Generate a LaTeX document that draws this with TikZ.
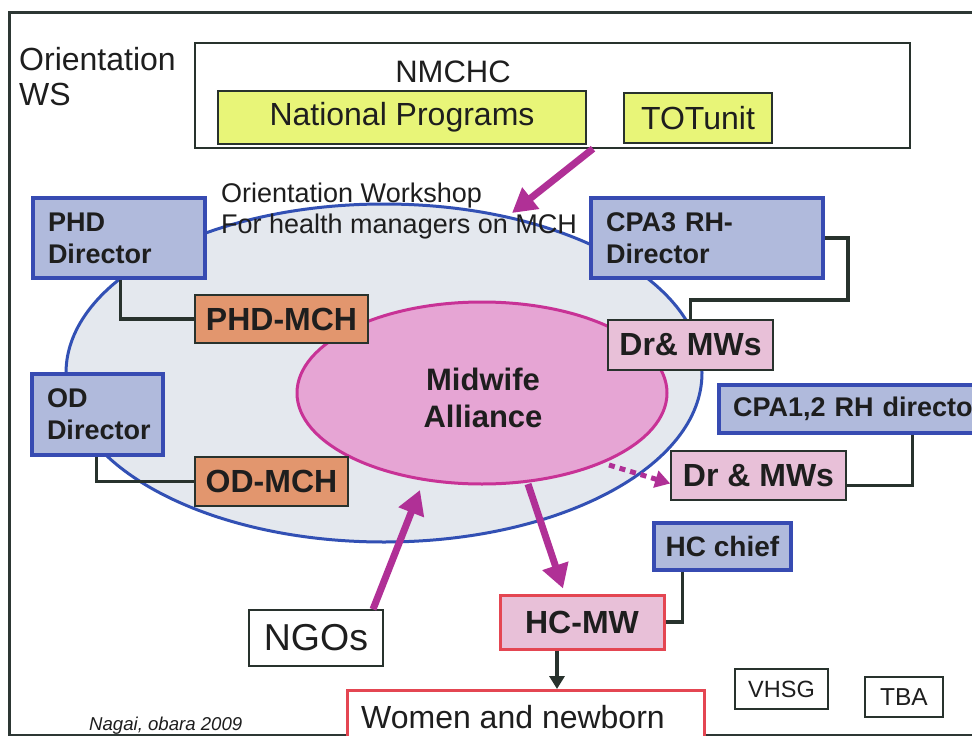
\documentclass[tikz,border=0pt]{standalone}
\usepackage{fontspec}
\setmainfont{Liberation Sans}
\usetikzlibrary{arrows.meta,shapes.geometric,calc}
\definecolor{framecol}{RGB}{45,55,52}
\definecolor{darkline}{RGB}{40,50,45}
\definecolor{wsblue}{RGB}{50,80,180}
\definecolor{wsfill}{RGB}{228,232,238}
\definecolor{mwborder}{RGB}{200,50,150}
\definecolor{mwfill}{RGB}{230,165,212}
\definecolor{boxblue}{RGB}{55,75,178}
\definecolor{bluefill}{RGB}{176,186,220}
\definecolor{orangefill}{RGB}{226,150,110}
\definecolor{pinkfill}{RGB}{232,192,216}
\definecolor{yellowfill}{RGB}{232,245,120}
\definecolor{redline}{RGB}{228,70,82}
\definecolor{magarrow}{RGB}{176,48,150}
\definecolor{txt}{RGB}{30,30,30}
\newcommand{\fsz}[2]{\fontsize{#1}{#2}\selectfont}
\tikzset{
  basebox/.style={rectangle, inner sep=0pt, text=txt},
  bluebox/.style={basebox, draw=boxblue, fill=bluefill, line width=3.5pt, align=left, font=\bfseries\fsz{27}{32}},
  orangebox/.style={basebox, draw=darkline, fill=orangefill, line width=1.6pt, font=\bfseries\fsz{32}{36}},
  pinkbox/.style={basebox, draw=darkline, fill=pinkfill, line width=1.6pt, font=\bfseries\fsz{32}{36}},
  yellowbox/.style={basebox, draw=darkline, fill=yellowfill, line width=2.5pt, font=\fsz{32}{36}},
  plainbox/.style={basebox, draw=darkline, fill=white, line width=1.4pt},
  redbox/.style={basebox, draw=redline, line width=3pt},
  conn/.style={draw=darkline, line width=3.5pt},
  bigarrow/.style={draw=magarrow, line width=7pt, -{Triangle[length=24pt,width=26pt]}},
  dotarrow/.style={draw=magarrow, line width=5pt, dash pattern=on 6pt off 5pt, -{Triangle[length=15pt,width=17pt]}},
  darrow/.style={draw=darkline, line width=3.5pt, -{Triangle[length=13pt,width=15pt]}},
}
\begin{document}
\begin{tikzpicture}[x=1pt,y=-1pt]
\useasboundingbox (0,0) rectangle (972,736);
\clip (0,0) rectangle (972,736);
\fill[white] (0,0) rectangle (972,736);
% frame
\draw[framecol, line width=3pt] (9,745) -- (9,12) -- (985,12);
\draw[framecol, line width=2pt] (9,734.5) -- (985,734.5);

% top
\node[anchor=north west, inner sep=0pt, align=left, text=txt, font=\fsz{32}{35}] (orient) at (19,47) {Orientation\\WS};
\node[plainbox, minimum width=715pt, minimum height=105pt] (nmchc) at (552.5,95.5) {};
\node[inner sep=0pt, text=txt, font=\fsz{31}{34}] (nmchclbl) at (453,72) {NMCHC};
\node[yellowbox, minimum width=368pt, minimum height=53pt] (natprog) at (402,117.5) {National Programs};
\node[yellowbox, line width=1.6pt, minimum width=148pt, minimum height=50pt] (totunit) at (698,118) {TOTunit};

% workshop ellipse
\node[ellipse, draw=wsblue, fill=wsfill, line width=3pt, minimum width=636pt, minimum height=338pt, inner sep=0pt] (ws) at (384,373) {};
\node[anchor=north west, inner sep=0pt, align=left, text=txt, font=\fsz{27}{31}] (wstext) at (221,183) {Orientation Workshop\\For health managers on MCH};

% midwife alliance
\node[ellipse, draw=mwborder, fill=mwfill, line width=3pt, minimum width=370pt, minimum height=182pt, inner sep=0pt] (mw) at (482,393) {};
\node[inner sep=0pt, text=txt, align=center, font=\bfseries\fsz{31}{37}] (mwtxt) at (483,398) {Midwife\\Alliance};

% boxes
\node[bluebox, minimum width=172pt, minimum height=80pt, text width=142pt] (phddir) at (119,238) {PHD\\Director};
\node[orangebox, minimum width=173pt, minimum height=48pt] (phdmch) at (281.5,319) {PHD-MCH};
\node[bluebox, minimum width=131pt, minimum height=81pt, text width=101pt] (oddir) at (97.5,414.5) {OD\\Director};
\node[orangebox, minimum width=153pt, minimum height=49pt] (odmch) at (271.5,481.5) {OD-MCH};
\node[bluebox, minimum width=232pt, minimum height=80pt, text width=202pt] (cpa3) at (707,238) {CPA3 RH-\\Director};
\node[pinkbox, minimum width=165pt, minimum height=50pt] (drmw1) at (690.5,345) {Dr\& MWs};
\node[bluebox, minimum width=271pt, minimum height=48pt, text width=243pt, font=\bfseries\fsz{27}{32}] (cpa12) at (854.5,409) {\mbox{CPA1,2 RH director}};
\node[pinkbox, minimum width=175pt, minimum height=49pt] (drmw2) at (758.5,475.5) {Dr \& MWs};
\node[bluebox, align=center, minimum width=137pt, minimum height=47pt, font=\bfseries\fsz{28}{32}] (hcchief) at (722.5,546.5) {HC chief};
\node[redbox, fill=pinkfill, minimum width=164pt, minimum height=54pt, font=\bfseries\fsz{32}{36}] (hcmw) at (582,622) {HC-MW};
\node[redbox, fill=white, anchor=north, minimum width=357pt, minimum height=80pt] (women) at (525.5,689) {};
\node[anchor=base, inner sep=0pt, text=txt, font=\fsz{32}{36}] (womentxt) at (513,728) {Women and newborn};
\node[plainbox, minimum width=134pt, minimum height=56pt, font=\fsz{37.5}{40}] (ngos) at (316,638) {NGOs};
\node[plainbox, minimum width=93pt, minimum height=40pt, font=\fsz{23.5}{26}] (vhsg) at (781.5,689) {VHSG};
\node[plainbox, minimum width=78pt, minimum height=40pt, font=\fsz{24.5}{26}] (tba) at (904,697) {TBA};
\node[anchor=base west, inner sep=0pt, text=txt, font=\itshape\fsz{18.6}{22}] (credit) at (89,730) {Nagai, obara 2009};

% connectors
\draw[conn] ([xshift=89pt]phddir.south west) |- (phdmch.west);
\draw[conn] ([xshift=66pt]oddir.south west) |- (odmch.west);
\coordinate (c3k) at (848,300);
\draw[conn] (cpa3.east) -| (c3k) -| (drmw1.north);
\draw[conn] ([xshift=195pt]cpa12.south west) |- ([yshift=-10pt]drmw2.east);
\draw[conn] ([xshift=30pt]hcchief.south west) |- (hcmw.east);

% arrows
\coordinate (wsB) at (512,213);
\draw[bigarrow] ([xshift=40.5pt]nmchc.south) -- (wsB);
\coordinate (ngoB) at (420,490);
\draw[bigarrow] ([xshift=57pt]ngos.north) -- (ngoB);
\coordinate (mwS) at (528,484);
\draw[bigarrow] (mwS) -- ([xshift=-19pt,yshift=5pt]hcmw.north);
\coordinate (dotS) at (609,465);
\draw[dotarrow] (dotS) -- ([yshift=-8pt]drmw2.west);
\draw[darrow] ([xshift=-25pt]hcmw.south) -- ([xshift=31.5pt]women.north);
\end{tikzpicture}
\end{document}
